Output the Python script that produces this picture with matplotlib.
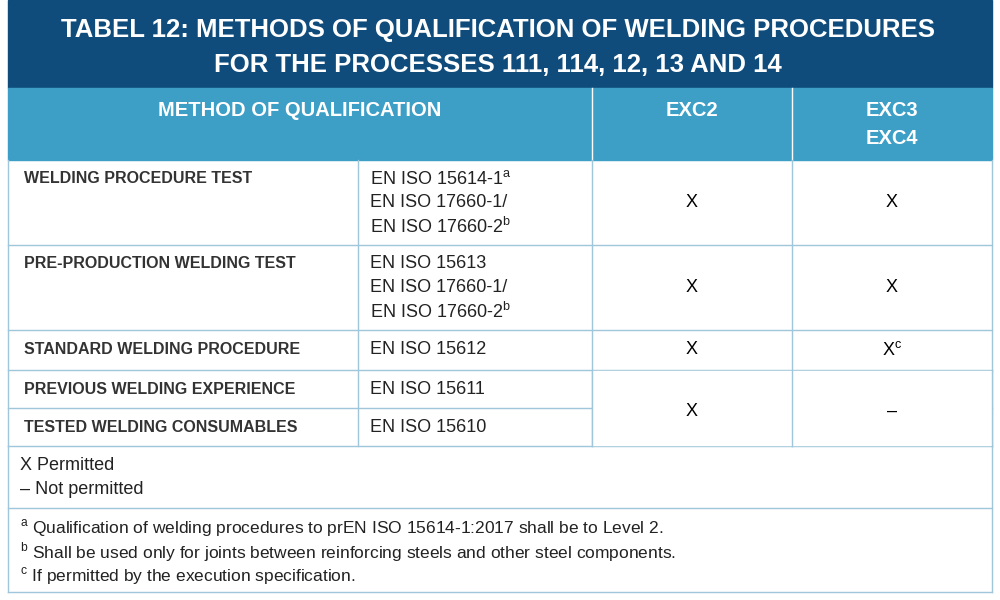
import matplotlib
matplotlib.use("Agg")
import matplotlib.pyplot as plt
from matplotlib.patches import Rectangle

title_lines = ["TABEL 12: METHODS OF QUALIFICATION OF WELDING PROCEDURES",
               "FOR THE PROCESSES 111, 114, 12, 13 AND 14"]
headers = ["METHOD OF QUALIFICATION", "EXC2", "EXC3", "EXC4"]
methods = ["WELDING PROCEDURE TEST", "PRE-PRODUCTION WELDING TEST",
           "STANDARD WELDING PROCEDURE", "PREVIOUS WELDING EXPERIENCE",
           "TESTED WELDING CONSUMABLES"]
standards = [["EN ISO 15614-1$^{\\mathrm{a}}$", "EN ISO 17660-1/", "EN ISO 17660-2$^{\\mathrm{b}}$"],
             ["EN ISO 15613", "EN ISO 17660-1/", "EN ISO 17660-2$^{\\mathrm{b}}$"],
             ["EN ISO 15612"], ["EN ISO 15611"], ["EN ISO 15610"]]
exc2 = ["X", "X", "X", "X"]          # last one merged over rows 4-5
exc3 = ["X", "X", "X$^{\\mathrm{c}}$", "–"]
legend = ["X Permitted", "– Not permitted"]
notes = ["$^{\\mathrm{a}}$ Qualification of welding procedures to prEN ISO 15614-1:2017 shall be to Level 2.",
         "$^{\\mathrm{b}}$ Shall be used only for joints between reinforcing steels and other steel components.",
         "$^{\\mathrm{c}}$ If permitted by the execution specification."]

plt.rcParams["mathtext.fontset"] = "custom"
plt.rcParams["mathtext.rm"] = "Liberation Sans"

DARK = "#0f4c7c"; LIGHT = "#3d9ec6"; LINE = "#9fc6da"
COND = ["Liberation Sans", "DejaVu Sans"]
BODY = ["Liberation Sans", "DejaVu Sans"]

fig = plt.figure(figsize=(10, 6), dpi=100)
ax = fig.add_axes([0, 0, 1, 1])
ax.set_xlim(0, 1000); ax.set_ylim(600, 0); ax.axis("off")

L, R = 8, 992
cols = [L, 358, 592, 792, R]
ax.add_patch(Rectangle((L, 0), R - L, 88, color=DARK))
ax.add_patch(Rectangle((L, 88), R - L, 72, color=LIGHT))
for i, t in enumerate(title_lines):
    ax.text(498, 30 + 35 * i, t, color="white", fontsize=18.5, fontweight="bold",
            family=COND, ha="center", va="center")
hk = dict(color="white", fontsize=14.5, fontweight="bold", family=COND, ha="center", va="center")
ax.text(300, 110, headers[0], **hk)
ax.text(692, 110, headers[1], **hk)
ax.text(892, 110, headers[2], **hk)
ax.text(892, 139, headers[3], **hk)
for x in cols[2:4]:
    ax.plot([x, x], [88, 160], color="white", lw=1)

rows = [160, 245, 330, 370, 408, 446]
lw = 1
for y in rows[1:]:
    ax.plot([L, R], [y, y], color=LINE, lw=lw)
for x in cols:
    ax.plot([x, x], [160, 446], color=LINE, lw=lw)
ax.plot([L, R], [508, 508], color=LINE, lw=lw)
ax.plot([L, R], [592, 592], color=LINE, lw=lw)
ax.plot([L, L], [446, 592], color=LINE, lw=lw)
ax.plot([R, R], [446, 592], color=LINE, lw=lw)
ax.add_patch(Rectangle((cols[2] + 1, 371), R - cols[2] - 2, 74, color="white", zorder=2))
for x in cols[2:]:
    ax.plot([x, x], [370, 446], color=LINE, lw=lw, zorder=3)

for i, m in enumerate(methods):
    y0, y1 = rows[i], rows[i + 1]
    n = len(standards[i])
    ytop = (y0 + y1) / 2 - (n - 1) * 12 if n > 1 else (y0 + y1) / 2
    ax.text(24, ytop, m, fontsize=11.5, fontweight="bold", color="#333333",
            family=BODY, ha="left", va="center")
    for j, s in enumerate(standards[i]):
        ax.text(370, ytop + 24 * j, s, fontsize=13, color="#222222", family=BODY, ha="left", va="center")
    if i < 3:
        ax.text(692, (y0 + y1) / 2, exc2[i], fontsize=13, family=BODY, ha="center", va="center", zorder=4)
        ax.text(892, (y0 + y1) / 2, exc3[i], fontsize=13, family=BODY, ha="center", va="center", zorder=4)
ax.text(692, 411, exc2[3], fontsize=13, family=BODY, ha="center", va="center", zorder=4)
ax.text(892, 411, exc3[3], fontsize=13, family=BODY, ha="center", va="center", zorder=4)

for j, t in enumerate(legend):
    ax.text(20, 465 + 24 * j, t, fontsize=13, color="#222222", family=BODY, ha="left", va="center")
for j, t in enumerate(notes):
    ax.text(20, 528 + 24 * j, t, fontsize=12.5, color="#222222", family=BODY, ha="left", va="center")

fig.savefig("out.png", dpi=100)
